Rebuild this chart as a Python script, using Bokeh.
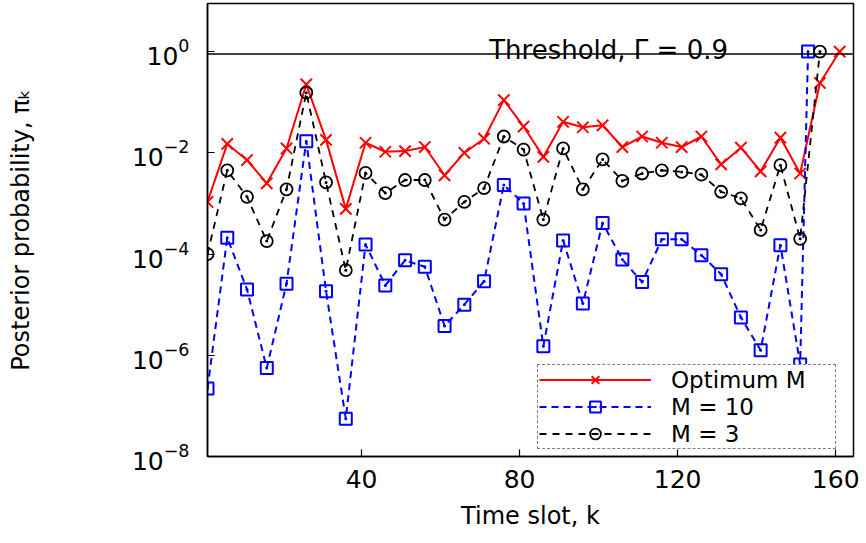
from bokeh.plotting import figure
from bokeh.models import Range1d, FixedTicker, Span, Label, Legend, LegendItem
from bokeh.embed import file_html
from bokeh.resources import INLINE

# ---- data ----
k_opt = [1, 6, 11, 16, 21, 26, 31, 36, 41, 46, 51, 56, 61, 66, 71, 76, 81, 86, 91, 96,
         101, 106, 111, 116, 121, 126, 131, 136, 141, 146, 151, 156, 161]
pi_opt = [1.07e-3, 0.015, 0.0072, 0.0025, 0.0122, 0.225, 0.018, 7.8e-4, 0.0158, 0.0105,
          0.0108, 0.013, 0.0036, 0.010, 0.019, 0.11, 0.033, 0.0083, 0.041, 0.032,
          0.035, 0.013, 0.021, 0.0158, 0.013, 0.021, 0.0059, 0.0126, 0.0043, 0.0199,
          0.0039, 0.24, 1.0]

k_m10 = [1, 6, 11, 16, 21, 26, 31, 36, 41, 46, 51, 56, 61, 66, 71, 76, 81, 86, 91, 96,
         101, 106, 111, 116, 121, 126, 131, 136, 141, 146, 151, 153]
pi_m10 = [2.2e-7, 2.1e-4, 2.0e-5, 5.6e-7, 2.6e-5, 0.017, 1.85e-5, 5.6e-8, 1.55e-4, 2.4e-5,
          7.5e-5, 5.6e-5, 3.8e-6, 1.0e-5, 2.9e-5, 0.0023, 0.001, 1.5e-6, 1.86e-4, 1.05e-5,
          4.1e-4, 7.8e-5, 2.8e-5, 1.95e-4, 1.95e-4, 9.5e-5, 4.0e-5, 5.6e-6, 1.26e-6, 1.5e-4,
          6.6e-7, 1.0]

k_m3 = [1, 6, 11, 16, 21, 26, 31, 36, 41, 46, 51, 56, 61, 66, 71, 76, 81, 86, 91, 96,
        101, 106, 111, 116, 121, 126, 131, 136, 141, 146, 151, 156]
pi_m3 = [1.0e-4, 0.0045, 0.00135, 1.8e-4, 0.0019, 0.154, 0.0026, 4.8e-5, 0.004, 0.0016,
         0.0029, 0.0029, 4.8e-4, 0.00107, 0.002, 0.021, 0.0116, 4.8e-4, 0.0122, 0.0019,
         0.0074, 0.0028, 0.0039, 0.0045, 0.0042, 0.0037, 0.0017, 0.00126, 3.0e-4, 0.0057,
         2.0e-4, 1.0]

threshold = 0.9
x_ticks = [40, 80, 120, 160]
y_ticks = [1e-8, 1e-6, 1e-4, 1e-2, 1.0]
labels = ["Optimum M", "M = 10", "M = 3"]

FONT = "DejaVu Sans"

p = figure(width=866, height=543, y_axis_type="log",
           x_range=Range1d(1, 164.5), y_range=Range1d(1e-8, 10 ** 0.95),
           output_backend="svg", toolbar_location=None,
           min_border_left=207, min_border_right=13, min_border_top=3, min_border_bottom=87)

p.background_fill_color = "white"
p.border_fill_color = "white"
p.outline_line_color = "black"
p.outline_line_width = 1.5
p.xgrid.visible = False
p.ygrid.visible = False

# threshold line
p.add_layout(Span(location=threshold, dimension="width", line_color="black", line_width=1.5))

# series
r1l = p.line(k_opt, pi_opt, line_color="red", line_width=2)
r1m = p.scatter(k_opt, pi_opt, marker="x", size=16, line_color="red", line_width=2)

r2l = p.line(k_m10, pi_m10, line_color="blue", line_width=2, line_dash="7 5")
r2m = p.scatter(k_m10, pi_m10, marker="square_dot", size=12, line_color="blue",
                fill_alpha=0, line_width=2)

r3l = p.line(k_m3, pi_m3, line_color="black", line_width=1.8, line_dash="7 6")
r3m = p.scatter(k_m3, pi_m3, marker="circle_dot", size=12, line_color="black",
                fill_alpha=0, line_width=1.8)

p.add_layout(Label(x=72.3, y=1.07, text="Threshold, \u0393 = 0.9", text_font=FONT,
                   text_font_size="26px", text_baseline="alphabetic", text_color="black"))

# axes
for ax in (p.xaxis, p.yaxis):
    ax.axis_line_color = "black"
    ax.axis_line_width = 1.5
    ax.major_tick_in = 7
    ax.major_tick_out = 0
    ax.minor_tick_line_color = None
    ax.major_tick_line_color = "black"
    ax.major_tick_line_width = 1.2
    ax.major_label_text_font = FONT
    ax.major_label_text_font_size = "25px"
    ax.major_label_text_color = "black"
    ax.axis_label_text_font = FONT
    ax.axis_label_text_font_size = "24px"
    ax.axis_label_text_font_style = "normal"
    ax.axis_label_text_color = "black"

p.xaxis.ticker = FixedTicker(ticks=x_ticks)
p.yaxis.ticker = FixedTicker(ticks=y_ticks)
p.xaxis.major_label_standoff = 13
p.xaxis.axis_label_standoff = 11
p.yaxis.major_label_standoff = 18
p.yaxis.axis_label_standoff = 94
p.xaxis.axis_label = "Time slot, k"
p.yaxis.axis_label = "Posterior probability, \u03c0\u2096"

legend = Legend(items=[LegendItem(label=labels[0], renderers=[r1l, r1m]),
                       LegendItem(label=labels[1], renderers=[r2l, r2m]),
                       LegendItem(label=labels[2], renderers=[r3l, r3m])],
                location=(330, 7))
legend.glyph_width = 112
legend.glyph_height = 27
legend.label_height = 26
legend.spacing = 0
legend.padding = 1
legend.margin = 0
legend.label_standoff = 20
legend.label_width = 163
legend.label_text_font = FONT
legend.label_text_font_size = "23px"
legend.label_text_color = "black"
legend.border_line_color = "black"
legend.border_line_width = 1
legend.border_line_dash = "1 2"
legend.background_fill_color = "white"
legend.background_fill_alpha = 1.0
p.add_layout(legend)

open("out.html", "w").write(file_html(p, INLINE))
